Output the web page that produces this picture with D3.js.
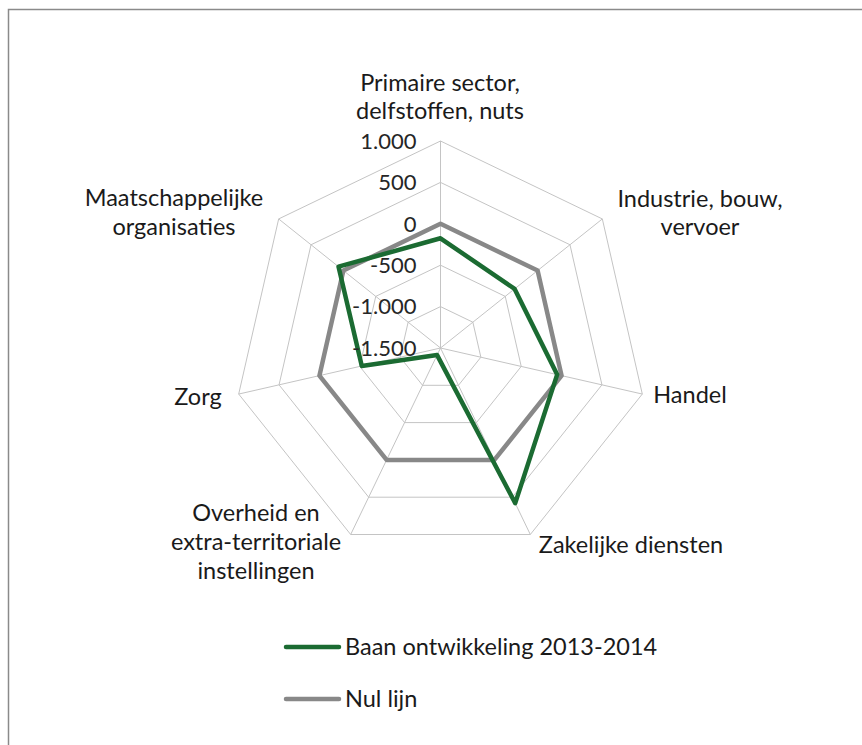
<!DOCTYPE html>
<html><head><meta charset="utf-8">
<script src="https://cdn.jsdelivr.net/npm/d3@7"></script>
<style>body{margin:0;background:#fff}svg{display:block}</style>
</head><body>
<script>
const categories = [
  ["Primaire sector,", "delfstoffen, nuts"],
  ["Industrie, bouw,", "vervoer"],
  ["Handel"],
  ["Zakelijke diensten"],
  ["Overheid en", "extra-territoriale", "instellingen"],
  ["Zorg"],
  ["Maatschappelijke", "organisaties"]
];
const baanOntwikkeling = [-175, -355, -55, 580, -1405, -525, 75];
const nulLijn = [0, 0, 0, 0, 0, 0, 0];
const tickValues = [-1500, -1000, -500, 0, 500, 1000];
const tickLabels = ["-1.500", "-1.000", "-500", "0", "500", "1.000"];
const seriesNames = ["Baan ontwikkeling 2013-2014", "Nul lijn"];

const W = 862, H = 745;
const cx = 440.5, cy = 348, R = 207;
const font = "Lato, 'Open Sans', sans-serif";
const svg = d3.select("body").append("svg").attr("width", W).attr("height", H);

// frame
svg.append("path").attr("d", `M8.5,${H+5}V9.5H${W+5}`).attr("fill","none")
  .attr("stroke","#8a8a8a").attr("stroke-width",1.5);

const r = d3.scaleLinear().domain([-1500, 1000]).range([0, R]);
const n = categories.length;
const ang = i => i * 2 * Math.PI / n;
const g = svg.append("g").attr("transform", `translate(${cx},${cy})`);

// rings
const ring = d3.lineRadial().angle((d,i)=>ang(i)).radius(d=>r(d)).curve(d3.curveLinearClosed);
tickValues.slice(1).forEach(v => {
  g.append("path").attr("d", ring(d3.range(n).map(()=>v))).attr("fill","none")
    .attr("stroke","#c4c4c4").attr("stroke-width",1);
});
// spokes
d3.range(n).forEach(i => {
  const a = ang(i);
  g.append("line").attr("x1",0).attr("y1",0)
    .attr("x2", r(1000)*Math.sin(a)).attr("y2", -r(1000)*Math.cos(a))
    .attr("stroke","#c4c4c4").attr("stroke-width",1);
});

// series
const line = d3.lineRadial().angle((d,i)=>ang(i)).radius(d=>r(d)).curve(d3.curveLinearClosed);
g.append("path").attr("d", line(nulLijn)).attr("fill","none")
  .attr("stroke","#888888").attr("stroke-width",4.5).attr("stroke-linejoin","round");
g.append("path").attr("d", line(baanOntwikkeling)).attr("fill","none")
  .attr("stroke","#1b6b32").attr("stroke-width",4.5).attr("stroke-linejoin","round");

// tick labels
tickValues.forEach((v,i) => {
  g.append("text").attr("x", -24).attr("y", -r(v)).attr("dy","0.35em")
    .attr("text-anchor","end").attr("font-family",font).attr("font-size",22)
    .attr("fill","#262626").text(tickLabels[i]);
});

// category labels
const labelPos = [
  {x:440, y:83}, {x:700, y:199}, {x:690, y:395}, {x:631, y:545},
  {x:256, y:513}, {x:198, y:397}, {x:174, y:198}
];
const lineH = [28, 28, 0, 0, 29, 0, 29];
categories.forEach((lines, i) => {
  const t = svg.append("text").attr("text-anchor","middle").attr("font-family",font)
    .attr("font-size",23.5).attr("fill","#1a1a1a");
  lines.forEach((s, k) => {
    t.append("tspan").attr("x", labelPos[i].x).attr("y", labelPos[i].y + k*lineH[i])
      .attr("dy","0.35em").text(s);
  });
});

// legend
const legColors = ["#1b6b32", "#888888"];
seriesNames.forEach((s, i) => {
  const y = 647 + i*52;
  svg.append("line").attr("x1",286).attr("x2",339).attr("y1",y).attr("y2",y)
    .attr("stroke",legColors[i]).attr("stroke-width",4.5).attr("stroke-linecap","round");
  svg.append("text").attr("x",345).attr("y",y).attr("dy","0.35em")
    .attr("font-family",font).attr("font-size",23.5).attr("fill","#1a1a1a").text(s);
});
</script>
</body></html>
